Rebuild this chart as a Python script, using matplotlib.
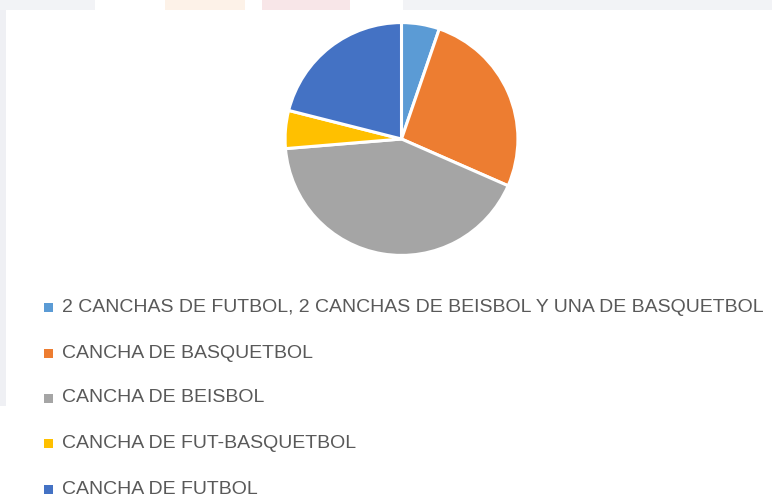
import matplotlib
matplotlib.use("Agg")
import matplotlib.pyplot as plt
from matplotlib.patches import Rectangle

# Sports facilities in the community
categories = [
    "2 CANCHAS DE FUTBOL, 2 CANCHAS DE BEISBOL Y UNA DE BASQUETBOL",
    "CANCHA DE BASQUETBOL",
    "CANCHA DE BEISBOL",
    "CANCHA DE FUT-BASQUETBOL",
    "CANCHA DE FUTBOL",
]
counts = [1, 5, 8, 1, 4]
colors = ["#5B9BD5", "#ED7D31", "#A5A5A5", "#FFC000", "#4472C4"]

W, H = 772, 497
fig = plt.figure(figsize=(W / 100, H / 100), dpi=100)
fig.patch.set_facecolor("white")

# faint page background around the chart frame
def px_rect(x, y, w, h, color):
    fig.patches.append(Rectangle((x / W, 1 - (y + h) / H), w / W, h / H,
                                 transform=fig.transFigure, color=color,
                                 lw=0, zorder=0))

px_rect(0, 0, 95, 10, "#F2F3F6")
px_rect(403, 0, 369, 10, "#F2F3F6")
px_rect(165, 0, 80, 10, "#FDF2E8")
px_rect(262, 0, 88, 10, "#F8E6E8")
px_rect(0, 10, 6, 396, "#EFF0F4")

# pie
cx, cy, r = 401.5, 139.0, 117.0
ax = fig.add_axes([(cx - r) / W, 1 - (cy + r) / H, 2 * r / W, 2 * r / H])
wedges, _ = ax.pie(counts, colors=colors, startangle=90, counterclock=False,
                   radius=1.0,
                   wedgeprops=dict(edgecolor="white", linewidth=2.2))
ax.set_xlim(-1.005, 1.005)
ax.set_ylim(-1.005, 1.005)
ax.set_aspect("equal")
ax.axis("off")

# legend
rows_y = [307, 353, 398, 443, 489]
for lab, col, y in zip(categories, colors, rows_y):
    px_rect(44, y - 4.5, 9, 9, col)
    fig.text(62 / W, 1 - y / H, lab, fontsize=14, color="#595959",
             family=["Liberation Sans", "DejaVu Sans"],
             va="center", ha="left")

fig.savefig("out.png", dpi=100)
